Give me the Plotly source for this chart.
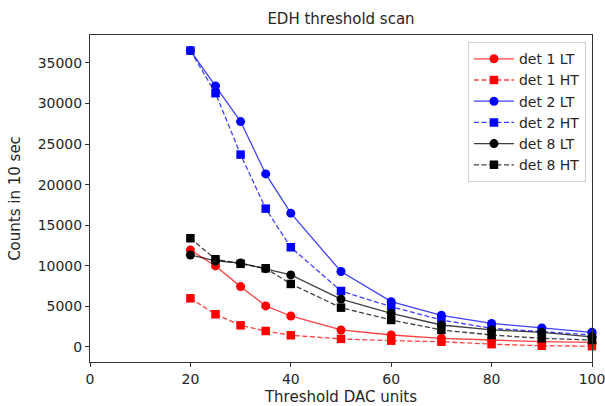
import plotly.graph_objects as go

thresholds = [20, 25, 30, 35, 40, 50, 60, 70, 80, 90, 100]

det1_lt = [11950, 9990, 7440, 5060, 3820, 2100, 1480, 1070, 860, 650, 560]
det1_ht = [6000, 4030, 2670, 1970, 1440, 1000, 780, 650, 350, 150, 100]
det2_lt = [36530, 32180, 27780, 21330, 16490, 9300, 5590, 3900, 2900, 2350, 1810]
det2_ht = [36530, 31280, 23710, 17050, 12290, 6900, 4970, 3330, 2300, 1900, 1480]
det8_lt = [11340, 10600, 10350, 9650, 8880, 5900, 4150, 2710, 2100, 1810, 1250]
det8_ht = [13400, 10810, 10250, 9700, 7770, 4850, 3330, 2100, 1480, 1070, 860]

series = [
    ("det 1 LT", det1_lt, (255, 0, 0), "solid", "circle"),
    ("det 1 HT", det1_ht, (255, 0, 0), "5px,2.5px", "square"),
    ("det 2 LT", det2_lt, (0, 0, 255), "solid", "circle"),
    ("det 2 HT", det2_ht, (0, 0, 255), "5px,2.5px", "square"),
    ("det 8 LT", det8_lt, (0, 0, 0), "solid", "circle"),
    ("det 8 HT", det8_ht, (0, 0, 0), "5px,2.5px", "square"),
]

fig = go.Figure()
for name, vals, (r, g, b), dash, sym in series:
    fig.add_trace(go.Scatter(
        x=thresholds, y=vals, name=name, mode="lines+markers",
        line=dict(color=f"rgba({r},{g},{b},0.75)", width=1.3, dash=dash),
        marker=dict(color=f"rgb({r},{g},{b})", symbol=sym, size=9 if sym == "circle" else 8.5,
                    line=dict(width=0)),
        cliponaxis=False,
    ))

font = "DejaVu Sans, Arial, sans-serif"
fig.update_layout(
    width=605, height=406,
    margin=dict(l=90, r=13, t=35, b=44),
    paper_bgcolor="white", plot_bgcolor="white",
    font=dict(family=font, size=14, color="#262626"),
    title=dict(text="EDH threshold scan", x=0.5, xref="paper", xanchor="center",
               y=1 - 19 / 406, yanchor="middle", font=dict(size=15, color="#262626")),
    showlegend=True,
    legend=dict(x=0.988, y=0.978, xanchor="right", yanchor="top",
                bgcolor="rgba(255,255,255,0.85)", bordercolor="#d0d0d0", borderwidth=1,
                font=dict(size=14, color="#262626"), tracegroupgap=0, itemwidth=40),
    xaxis=dict(range=[0, 100], tickvals=[0, 20, 40, 60, 80, 100], automargin=False,
               ticklabeloverflow="allow",
               showgrid=False, zeroline=False, showline=True, mirror=True,
               linecolor="#333333", linewidth=1, ticks="outside", ticklen=4,
               tickcolor="#333333", tickfont=dict(size=14),
               title=dict(text="Threshold DAC units", standoff=9, font=dict(size=15))),
    yaxis=dict(range=[-1850, 38450], tickvals=list(range(0, 35001, 5000)), tickformat="d",
               automargin=False, ticklabeloverflow="allow",
               showgrid=False, zeroline=False, showline=True, mirror=True,
               linecolor="#333333", linewidth=1, ticks="outside", ticklen=4,
               tickcolor="#333333", tickfont=dict(size=14),
               title=dict(text="Counts in 10 sec", standoff=13, font=dict(size=15))),
)

fig.write_html("out.html")
